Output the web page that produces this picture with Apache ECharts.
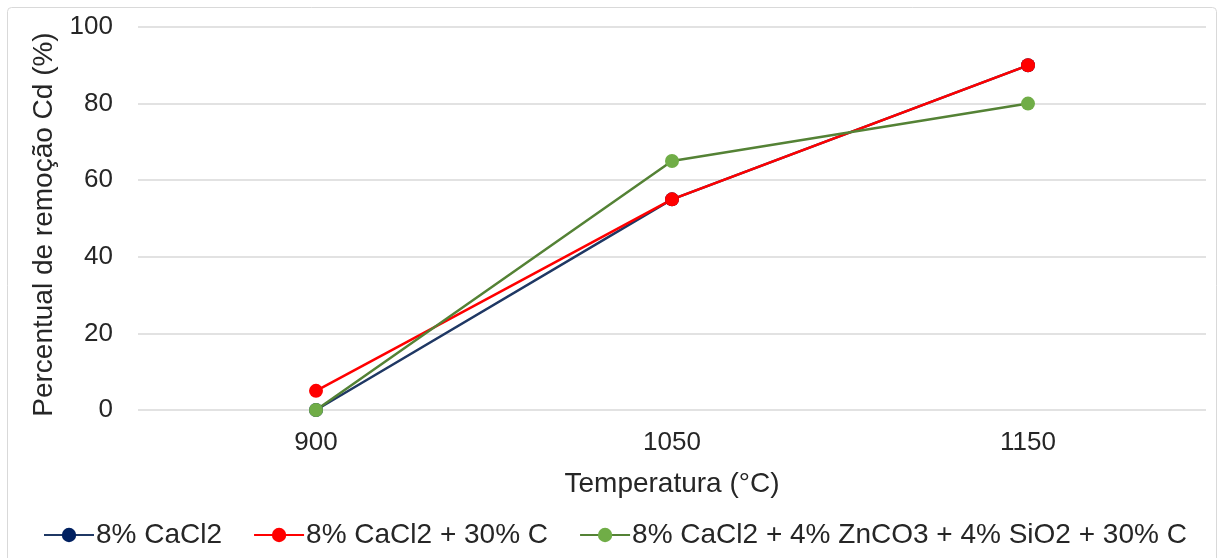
<!DOCTYPE html>
<html>
<head>
<meta charset="utf-8">
<script src="https://cdn.jsdelivr.net/npm/echarts@6/dist/echarts.min.js"></script>
<style>
  html, body { margin: 0; padding: 0; background: #ffffff; }
  #chart { width: 1219px; height: 558px; }
</style>
</head>
<body>
<div id="chart"></div>
<script>
// Temperatures (°C) on the category axis
const temperatures = ['900', '1050', '1150'];

// Cd removal (%) for each additive mix
const cacl2 = [0, 55, 90];
const cacl2Carbon = [5, 55, 90];
const cacl2ZnSiCarbon = [0, 65, 80];

const seriesNames = [
  '8% CaCl2',
  '8% CaCl2 + 30% C',
  '8% CaCl2 + 4% ZnCO3 + 4% SiO2 + 30% C'
];

const FONT = '"Liberation Sans", Arial, sans-serif';
const TEXT = '#262626';

function lineSeries(name, data, lineColor, markerColor) {
  return {
    name: name,
    type: 'line',
    data: data,
    symbol: 'circle',
    symbolSize: 14,
    lineStyle: { color: lineColor, width: 2.5 },
    itemStyle: { color: markerColor, borderWidth: 0 },
    emphasis: { disabled: true },
    z: 3
  };
}

const chart = echarts.init(document.getElementById('chart'), null, { renderer: 'canvas' });

chart.setOption({
  backgroundColor: '#ffffff',
  animation: false,
  textStyle: { fontFamily: FONT },
  graphic: [{
    type: 'rect',
    shape: { x: 7.5, y: 7.5, width: 1209, height: 600, r: 4 },
    style: { fill: 'none', stroke: '#d9d9d9', lineWidth: 1 },
    z: -1
  }],
  grid: { left: 138, right: 13, top: 27, bottom: 148, containLabel: false },
  legend: {
    data: seriesNames,
    bottom: 4,
    left: 38,
    itemWidth: 50,
    itemHeight: 18,
    itemGap: 31,
    textStyle: { fontFamily: FONT, fontSize: 28, color: TEXT, padding: [0, 0, 0, -3] }
  },
  xAxis: {
    type: 'category',
    data: temperatures,
    boundaryGap: true,
    name: 'Temperatura (°C)',
    nameLocation: 'middle',
    nameGap: 60,
    nameTextStyle: { fontFamily: FONT, fontSize: 28, color: TEXT },
    axisLine: { show: false },
    axisTick: { show: false },
    axisLabel: { fontFamily: FONT, fontSize: 26, color: TEXT, margin: 20 },
    splitLine: { show: false }
  },
  yAxis: {
    type: 'value',
    min: 0,
    max: 100,
    interval: 20,
    name: 'Percentual de remoção Cd (%)',
    nameLocation: 'middle',
    nameGap: 77,
    nameRotate: 90,
    nameTextStyle: { fontFamily: FONT, fontSize: 28, color: TEXT, padding: [0, 12, 0, 0] },
    axisLine: { show: false },
    axisTick: { show: false },
    axisLabel: { fontFamily: FONT, fontSize: 26, color: TEXT, margin: 25 },
    splitLine: { lineStyle: { color: '#d9d9d9', width: 1.5 } }
  },
  series: [
    lineSeries(seriesNames[0], cacl2, '#1f3864', '#002060'),
    lineSeries(seriesNames[1], cacl2Carbon, '#ff0000', '#ff0000'),
    lineSeries(seriesNames[2], cacl2ZnSiCarbon, '#548235', '#70ad47')
  ]
});
</script>
</body>
</html>
